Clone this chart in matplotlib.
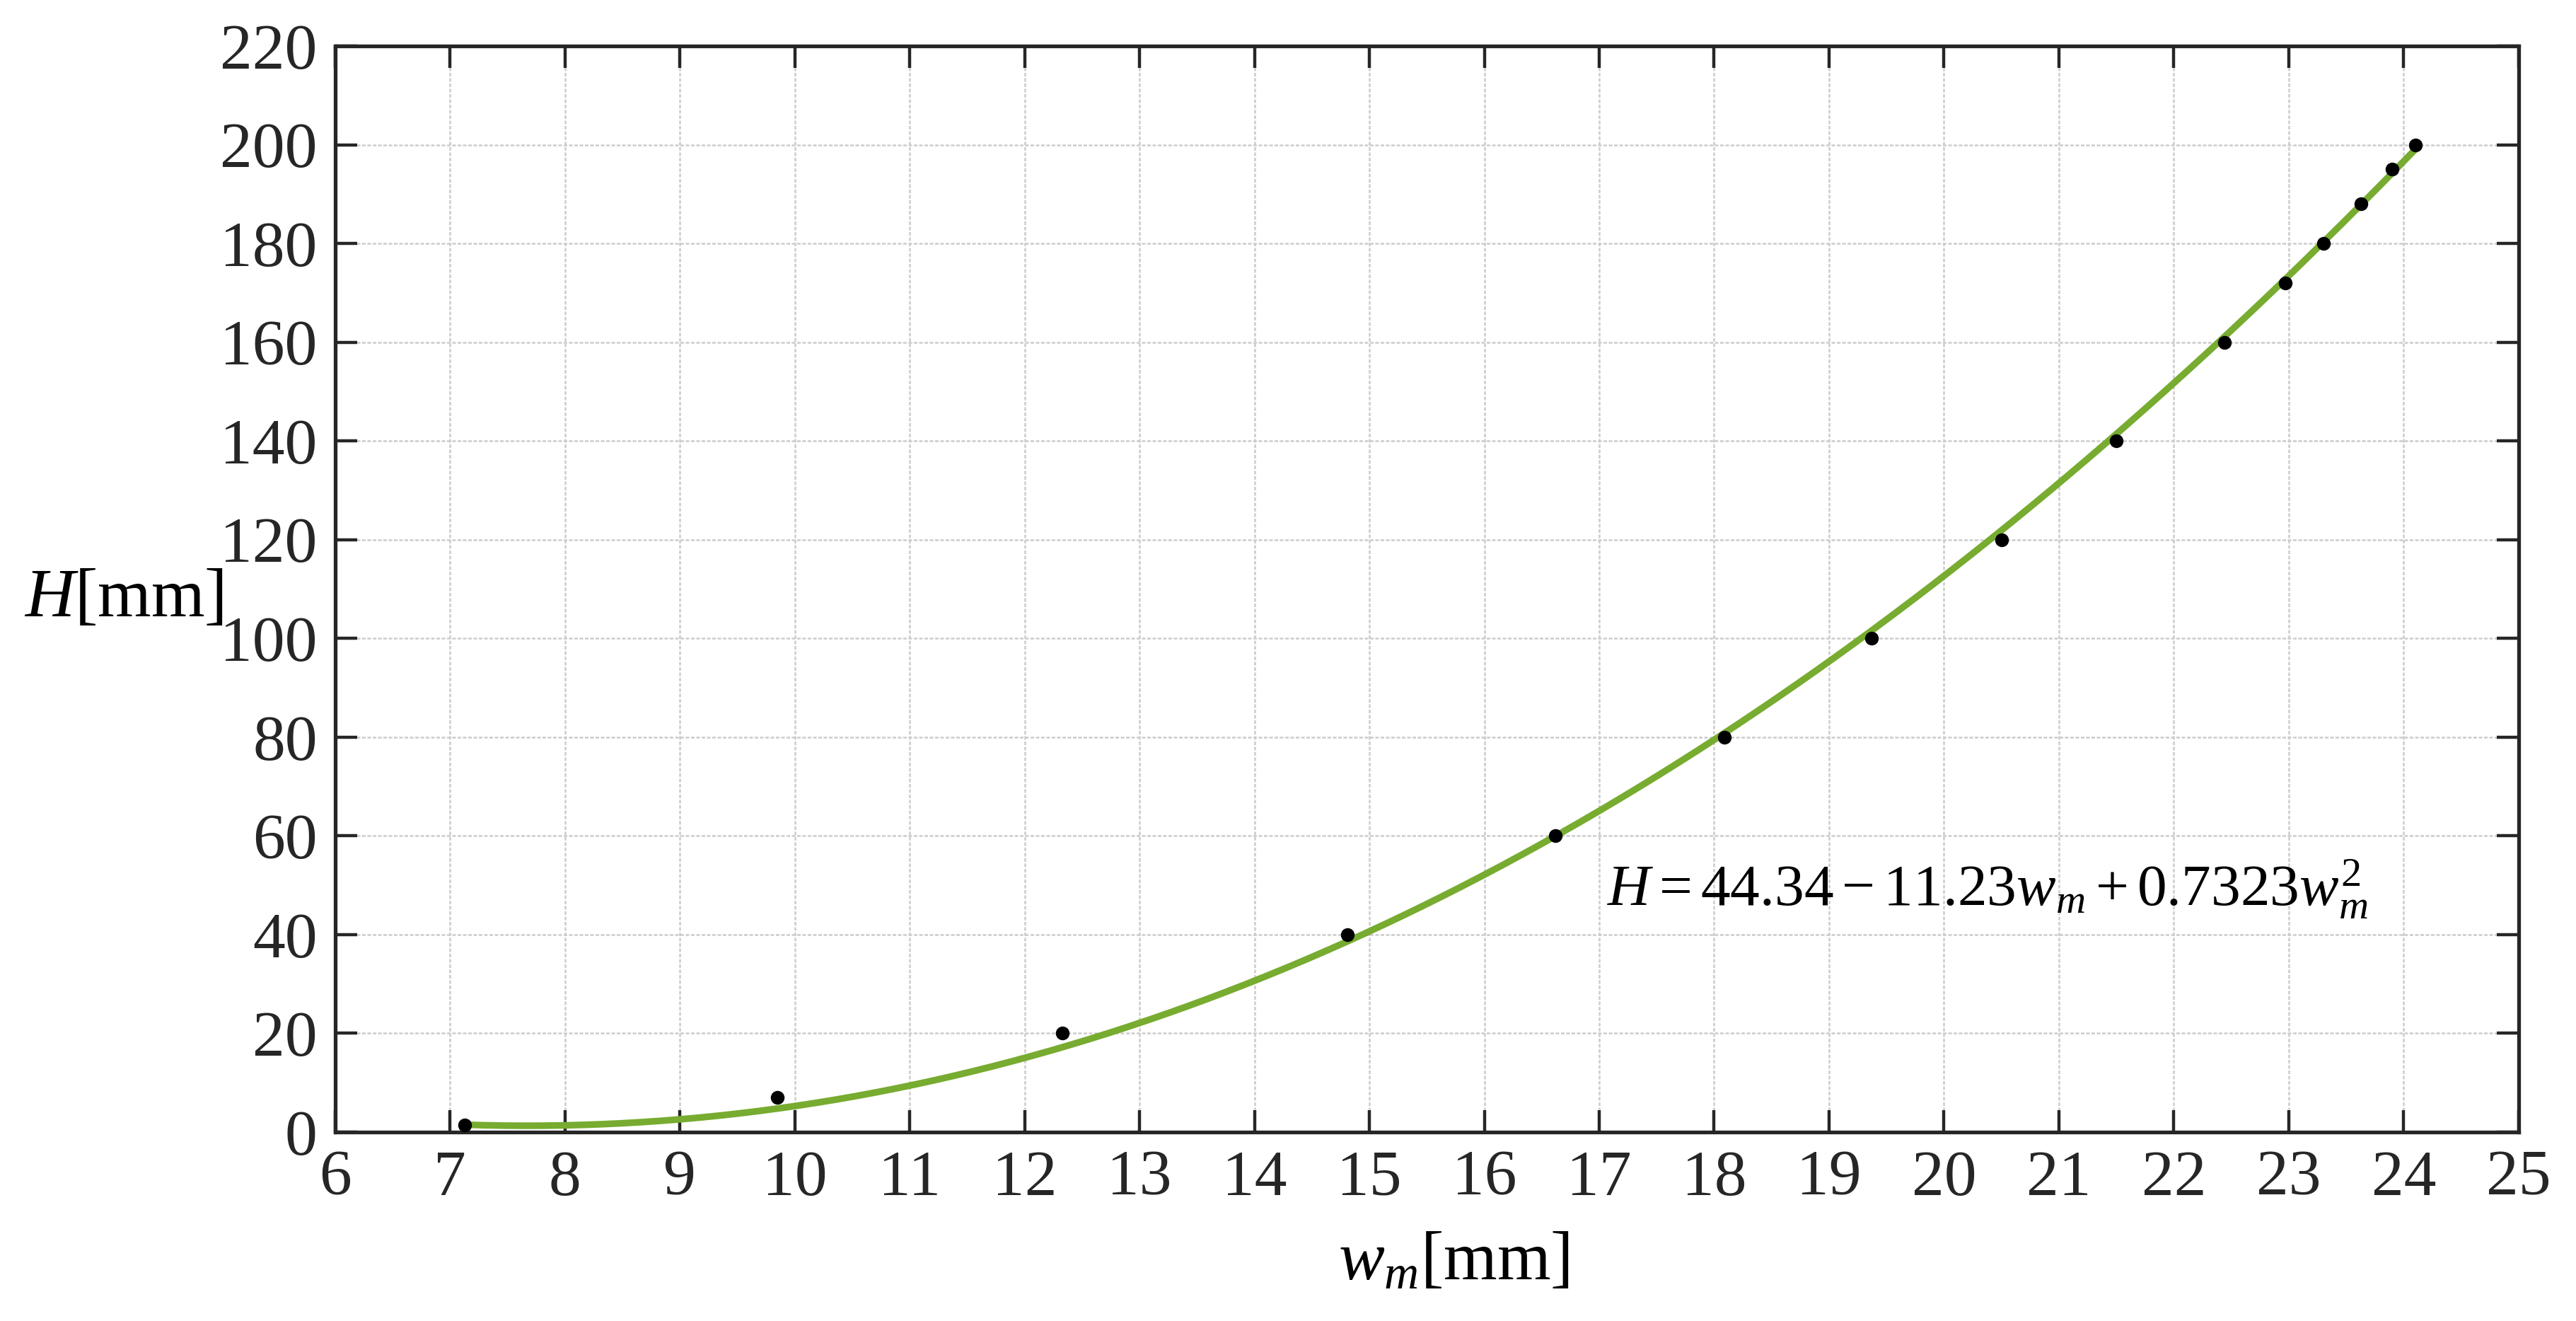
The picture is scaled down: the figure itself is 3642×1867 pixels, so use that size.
import numpy as np
import matplotlib
matplotlib.use("Agg")
import matplotlib.pyplot as plt

plt.rcParams['font.family'] = ['Liberation Serif', 'DejaVu Serif']
plt.rcParams['mathtext.fontset'] = 'custom'
plt.rcParams['mathtext.rm'] = 'Liberation Serif'
plt.rcParams['mathtext.it'] = 'Liberation Serif:italic'
plt.rcParams['mathtext.bf'] = 'Liberation Serif:bold'

# measured points
w_m = [7.13, 9.85, 12.33, 14.81, 16.62, 18.09, 19.37, 20.50, 21.50, 22.44,
       22.97, 23.30, 23.63, 23.90, 24.10]
H = [1.5, 7.0, 20, 40, 60, 80, 100, 120, 140, 160, 172, 180, 188, 195, 200]

# fit coefficients (from equation in chart)
c0, c1, c2 = 44.34, -11.23, 0.7323
fit_range = [7.13, 24.10]

xticks = list(range(6, 26))
yticks = list(range(0, 221, 20))

fig = plt.figure(figsize=(18.21, 9.335), dpi=200)
ax = fig.add_axes([0.1301, 0.1430, 0.8476, 0.8222])

wf = np.linspace(fit_range[0], fit_range[1], 300)
Hf = c0 + c1 * wf + c2 * wf ** 2
ax.plot(wf, Hf, color='#77AC30', lw=3.4, zorder=3)
ax.plot(w_m, H, 'o', color='black', ms=6, zorder=4)

ax.set_xlim(6, 25)
ax.set_ylim(0, 220)
ax.set_xticks(xticks)
ax.set_yticks(yticks)
ax.grid(True, linestyle=(0, (2, 1)), color='#cccccc', linewidth=0.9)
ax.set_axisbelow(True)
ax.tick_params(direction='in', length=11, width=1.6, top=True, right=True,
               labelsize=33, colors='#262626', pad=9)
for s in ax.spines.values():
    s.set_linewidth(1.9)
    s.set_color('#262626')

ax.text(17.07, 46, r'$H = 44.34 - 11.23w_m + 0.7323w_m^2$', fontsize=30,
        ha='left', va='baseline', color='black')

fig.text(0.048, 0.546, r'$H$[mm]', fontsize=35, ha='center', va='center')
fig.text(0.5645, 0.0445, r'$w_m$[mm]', fontsize=35, ha='center', va='center')

fig.savefig('out.png', dpi=200)
